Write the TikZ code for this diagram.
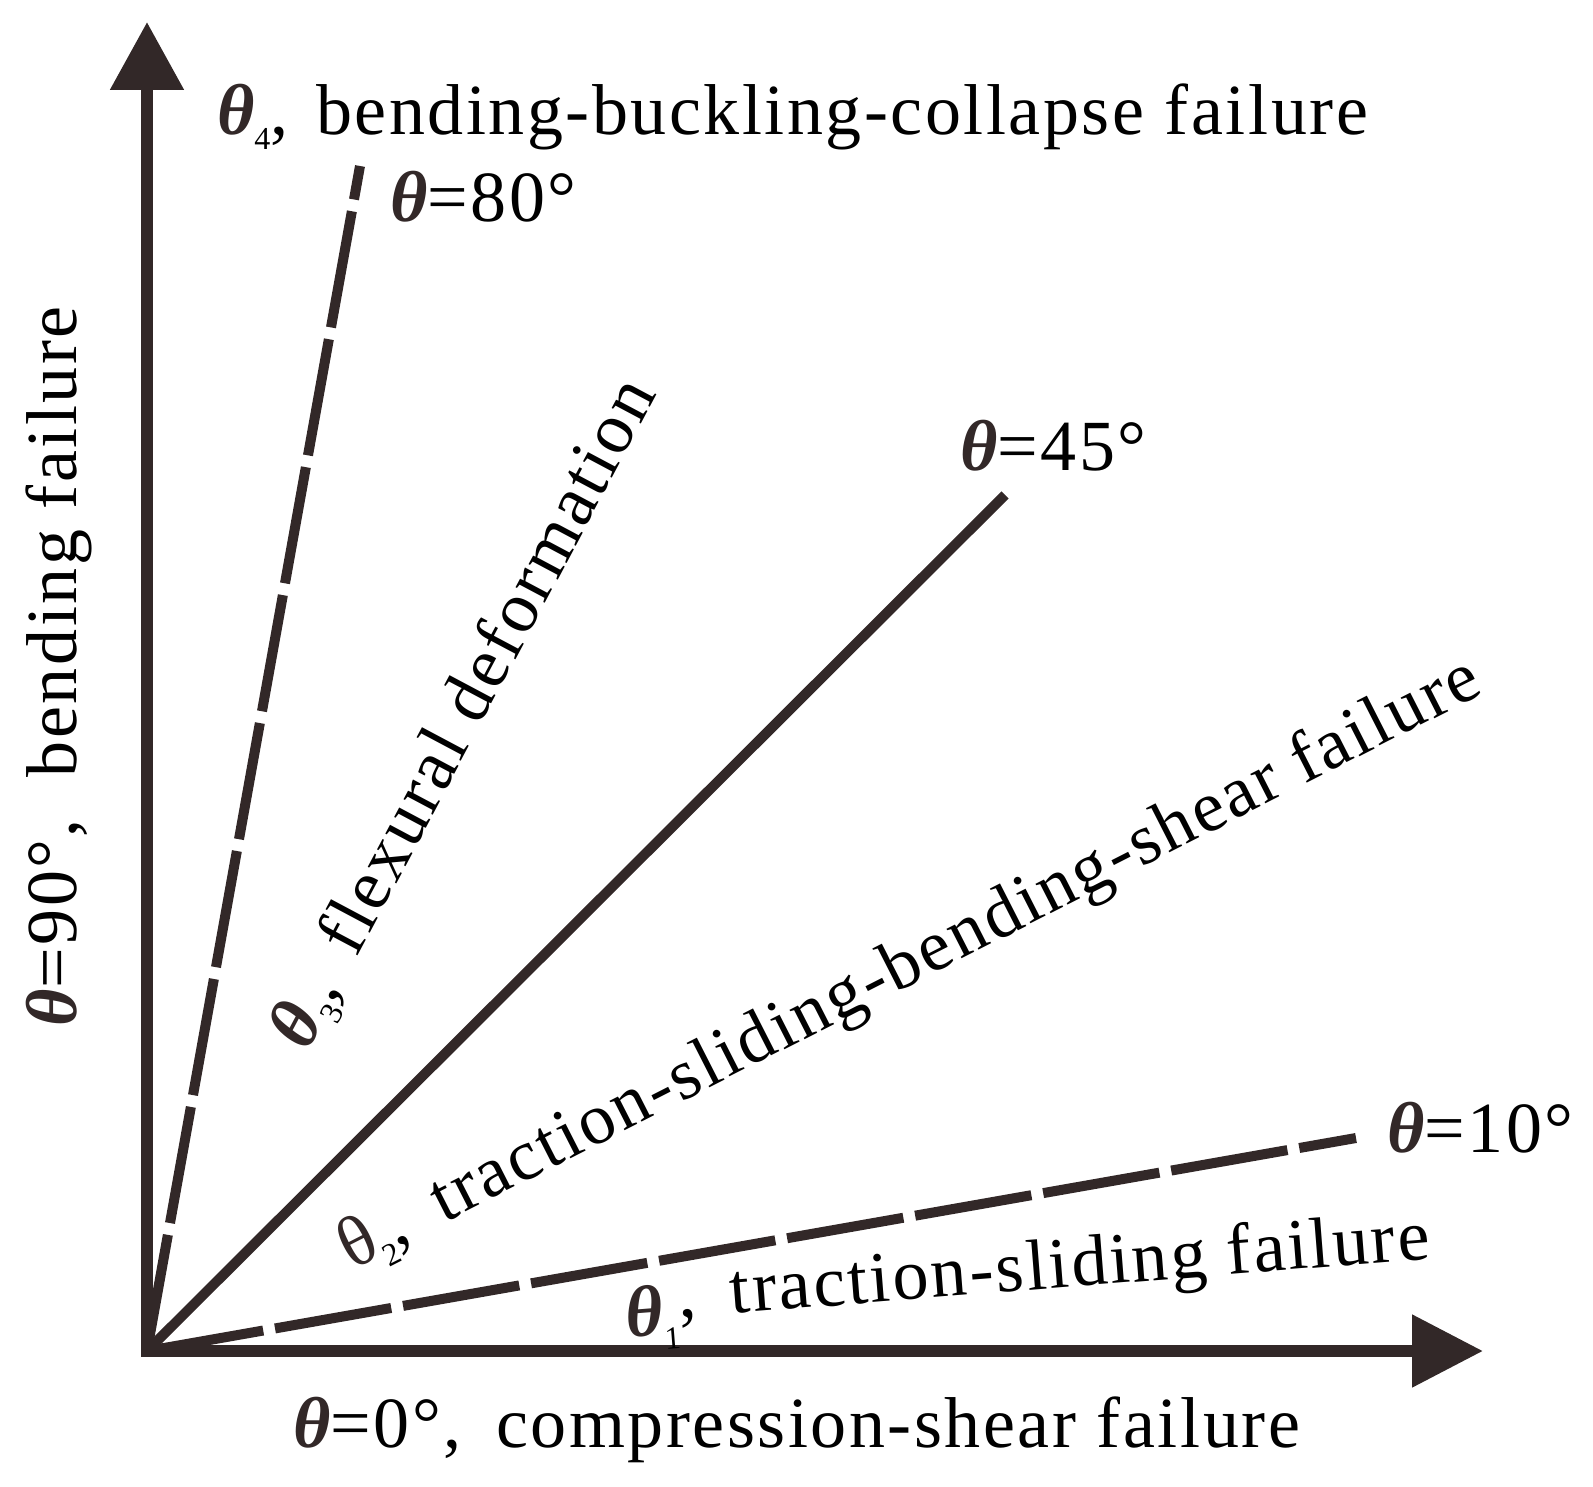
\documentclass[tikz,border=0pt]{standalone}
\usepackage{fontspec}
\setmainfont{Liberation Serif}[LetterSpace=3.5]
\usetikzlibrary{arrows.meta}
\definecolor{ink}{RGB}{50,40,40}
\newcommand{\thi}{{\bfseries\itshape\color{ink}θ}}
\newcommand{\thu}{{\color{ink}θ}}
\newcommand{\mysub}[1]{\raisebox{-0.2em}{\fontsize{32}{32}\selectfont #1}}
\begin{document}
\begin{tikzpicture}[x=1pt,y=-1pt,
  every node/.style={inner sep=0pt,outer sep=0pt},
  lbl/.style={font=\fontsize{72}{80}\selectfont,text=black},
  axis/.style={line width=12pt,draw=ink,line join=miter,
    {Triangle[length=68pt,width=71pt,fill=ink]}-{Triangle[length=71pt,width=70pt,fill=ink]}},
  ray/.style={line width=10pt,draw=ink,line cap=butt},
  dashray/.style={ray,dash pattern=on 118pt off 12pt}]
\useasboundingbox (0,0) rectangle (1593,1487);
\coordinate (O) at (147,1351);
\coordinate (ytip) at (147,22);
\coordinate (xtip) at (1483,1351);
\coordinate (e80) at (360,166);
\coordinate (e45) at (1005,495);
\coordinate (e10) at (1356,1138);
\draw[axis] (ytip) -- (O) -- (xtip);
\draw[dashray] (O) -- (e80);
\draw[ray] (O) -- (e45);
\draw[dashray] (O) -- (e10);
\node[lbl,anchor=base west] (t4) at (217,135) {\thi\mysub{4},\hspace{0.1em} bending-buckling-collapse failure};
\node[lbl,anchor=base west] (a80) at (390,222) {\thi=80°};
\node[lbl,anchor=base west] (a45) at (960,470) {\thi=45°};
\node[lbl,anchor=base west] (a10) at (1387,1152) {\thi=10°};
\node[lbl,anchor=base west] (a0) at (293,1447) {\thi=0°,\hspace{0.2em} compression-shear failure};
\node[lbl,anchor=base west,rotate=90] (a90) at (76,1026) {\thi=90°,\hspace{0.3em} bending failure};
\node[lbl,anchor=base west,rotate=62] (t3) at (307,1052) {\thi\mysub{3},\hspace{0.2em} flexural deformation};
\node[lbl,anchor=base west,rotate=27] (t2) at (352,1270) {\thu\mysub{2},\hspace{0.2em} traction-sliding-bending-shear failure};
\node[lbl,anchor=base west,rotate=4.5] (t1) at (626,1322) {\raisebox{-0.22em}{\thi\mysub{1}},\hspace{0.2em} traction-sliding failure};
\end{tikzpicture}
\end{document}
